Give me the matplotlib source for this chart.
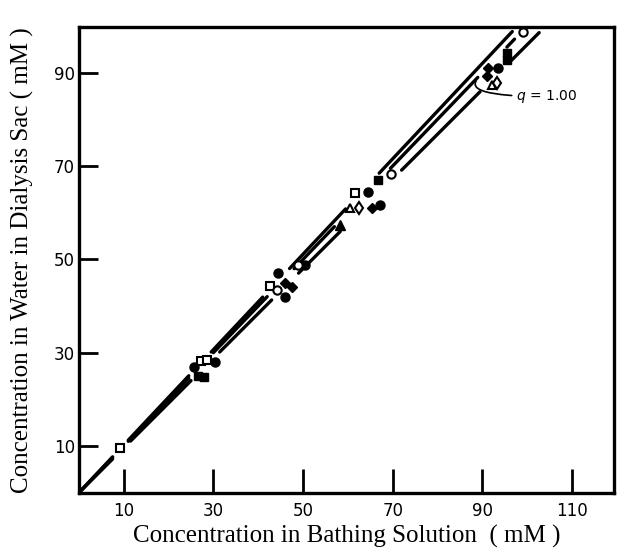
import matplotlib
matplotlib.use("Agg")
import matplotlib.pyplot as plt
import numpy as np

# Reference lines: slope and visible x-segments
line_slopes = [1.022, 1.0, 0.96]
line_segments = [
    [(0, 7.5), (11, 24.5), (29.5, 41), (47, 59.5), (67, 96.7)],
    [(0, 7.5), (11, 24.5), (30, 42), (48, 57), (69.5, 89), (95.5, 97.2), (98.6, 100)],
    [(0, 7.5), (11.5, 25), (31.4, 43), (49, 58.3), (72, 89.5), (96.2, 102.7)],
]

# Data points by symbol
open_sq_x = [9.1, 27.2, 28.5, 42.6, 61.6]
open_sq_y = [9.6, 28.2, 28.4, 44.3, 64.3]
fill_ci_x = [30.3, 44.4, 50.4, 64.5, 67.1, 93.5, 25.6, 45.9]
fill_ci_y = [28.0, 47.1, 48.8, 64.5, 61.7, 91.1, 27.0, 42.0]
open_ci_x = [48.8, 69.6, 99.1, 44.2]
open_ci_y = [48.8, 68.2, 98.7, 43.5]
fill_sq_x = [26.5, 27.9, 66.7, 95.5, 95.5]
fill_sq_y = [25.0, 24.8, 67.1, 94.3, 92.8]
open_tri_x = [60.4, 92.1]
open_tri_y = [61.1, 87.3]
fill_tri_x = [58.3]
fill_tri_y = [57.4]
open_dia_x = [62.5, 93.2]
open_dia_y = [61.1, 87.8]
fill_dia_x = [45.9, 47.5, 65.4, 91.3, 91.0]
fill_dia_y = [45.0, 44.1, 60.9, 91.1, 89.4]

x_ticks = [10, 30, 50, 70, 90, 110]
y_ticks = [10, 30, 50, 70, 90]

fig = plt.figure(figsize=(6.18, 5.53), dpi=100)
ax = fig.add_axes([79/618, 1-492.6/553, (614-79)/618, (492.6-27)/553])

for k, segs in zip(line_slopes, line_segments):
    for a, b in segs:
        xs = np.array([a, b])
        ax.plot(xs, k*xs, color='black', lw=2.4, solid_capstyle='round')

ms = 6.0
mew = 1.5
ax.plot(open_sq_x, open_sq_y, 's', mfc='white', mec='black', mew=mew, ms=ms, ls='none')
ax.plot(fill_ci_x, fill_ci_y, 'o', mfc='black', mec='black', ms=ms+0.5, ls='none')
ax.plot(open_ci_x, open_ci_y, 'o', mfc='white', mec='black', mew=mew, ms=ms, ls='none')
ax.plot(fill_sq_x, fill_sq_y, 's', mfc='black', mec='black', ms=ms, ls='none')
ax.plot(open_tri_x, open_tri_y, '^', mfc='white', mec='black', mew=mew, ms=ms, ls='none')
ax.plot(fill_tri_x, fill_tri_y, '^', mfc='black', mec='black', ms=ms+0.5, ls='none')
ax.plot(open_dia_x, open_dia_y, 'd', mfc='white', mec='black', mew=mew, ms=ms+0.5, ls='none')
ax.plot(fill_dia_x, fill_dia_y, 'D', mfc='black', mec='black', ms=ms-0.5, ls='none')

ax.annotate('$q$ = 1.00', xy=(88.6, 88.2), xytext=(97.5, 84.9),
            fontsize=10, va='center', ha='left',
            arrowprops=dict(arrowstyle='-', color='black', lw=1.2,
                            shrinkA=1, shrinkB=0,
                            connectionstyle='angle3,angleA=0,angleB=-120'))

ax.set_xlim(0, 119.4)
ax.set_ylim(0, 99.8)
ax.set_xticks(x_ticks)
ax.set_yticks(y_ticks)
ax.set_xticklabels([str(t) for t in x_ticks])
ax.set_yticklabels([str(t) for t in y_ticks])
ax.tick_params(axis='x', direction='in', length=17, width=2, labelsize=12, pad=7)
ax.tick_params(axis='y', direction='in', length=14, width=2, labelsize=12, pad=3)
for s in ax.spines.values():
    s.set_linewidth(2.4)

ax.set_xlabel('Concentration in Bathing Solution  ( mM )', family='Liberation Serif',
              fontsize=18, labelpad=3)
ax.set_ylabel('Concentration in Water in Dialysis Sac ( mM )', family='Liberation Serif',
              fontsize=18, labelpad=14)

fig.savefig('out.png', dpi=100)
